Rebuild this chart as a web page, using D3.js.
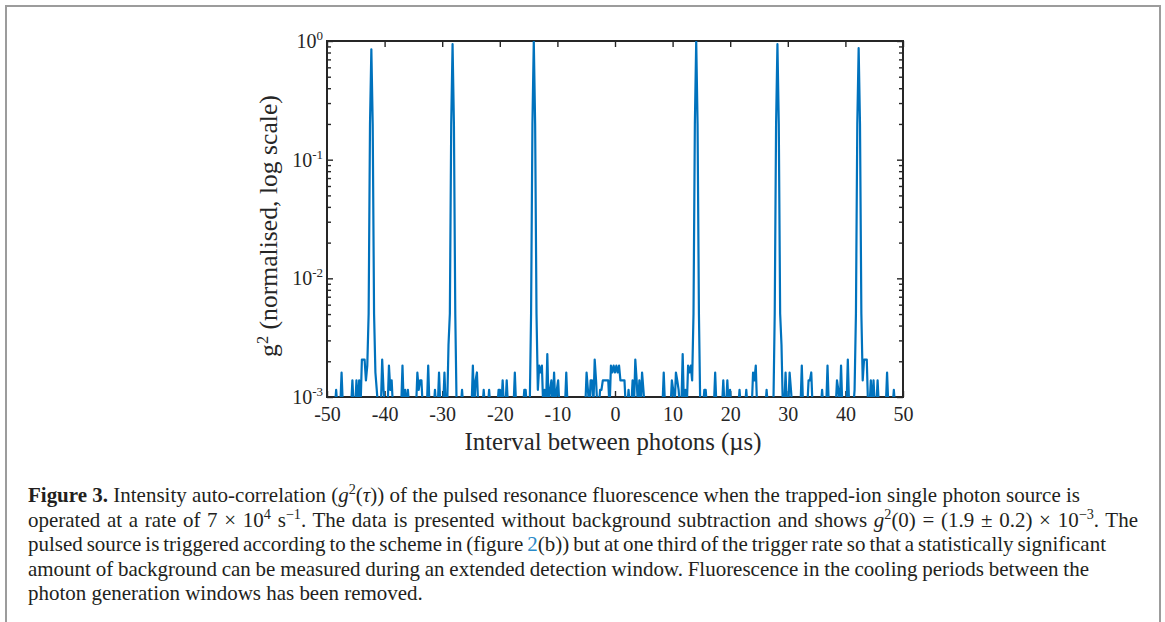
<!DOCTYPE html>
<html>
<head>
<meta charset="utf-8">
<script src="https://cdn.jsdelivr.net/npm/d3@7"></script>
<style>
  html, body { margin: 0; padding: 0; background: #ffffff; }
  svg { display: block; }
</style>
</head>
<body>
<svg id="chart" width="1165" height="622"></svg>
<script>
// ---------------- DATA ----------------
// Histogram of photon-pair intervals: bin width (µs) and index of the first bin (bin 0 is tau = 0)
const binWidthUs = 0.235;
const firstBinIndex = -207;
// coincidence counts that correspond to g2 = 1 (normalisation)
const countsAtUnity = 4350;
// coincidence counts per bin, from bin -207 to bin +207
const coincidenceCounts = [
  0,5,0,0,0,7,0,0,0,0,            // -207
  0,0,0,6,0,0,6,0,6,0,            // -197
  9,9,9,6,8,22,870,3700,870,22,   // -187
  7,5,0,0,0,9,5,0,0,0,            // -177
  8,5,6,0,0,0,0,0,0,0,            // -167
  8,0,5,0,5,0,0,0,0,0,            // -157
  0,7,5,6,6,0,0,0,0,8,            // -147
  0,0,0,0,5,0,0,7,0,0,            // -137
  0,7,0,0,12,22,870,4090,870,22,  // -127
  0,0,0,0,5,0,0,0,0,0,            // -117
  0,0,8,0,6,7,0,0,0,0,            // -107
  5,0,0,0,5,0,0,0,0,0,            // -97
  0,5,5,0,6,0,0,6,0,0,            // -87
  0,0,0,7,0,0,0,0,0,0,            // -77
  5,5,0,0,0,22,870,4350,870,22,   // -67
  5,8,7,8,0,5,0,10,0,5,           // -57
  6,0,7,0,5,6,0,0,0,0,            // -47
  0,7,0,0,0,0,0,0,0,0,            // -37
  0,0,0,0,0,0,7,5,0,6,            // -27
  6,0,9,6,0,0,5,5,6,6,            // -17
  6,6,6,0,8,7,8,7,8,7,            // -7
  8,6,6,6,6,0,0,5,0,0,            // 3
  6,0,9,6,0,6,0,7,5,0,            // 13
  0,0,0,0,0,0,0,0,0,0,            // 23
  0,0,0,7,0,0,0,0,0,6,            // 33
  5,0,7,6,5,0,0,10,0,5,           // 43
  0,8,7,8,6,22,870,4350,870,22,   // 53
  0,0,0,5,5,0,0,0,0,0,            // 63
  0,7,0,0,0,0,0,6,0,0,            // 73
  6,0,5,0,0,0,0,0,0,5,            // 83
  0,0,0,0,5,0,0,0,0,7,            // 93
  6,8,0,0,0,0,0,0,0,5,            // 103
  0,0,0,0,0,22,870,4090,870,22,   // 113
  12,0,0,7,0,0,7,5,0,0,           // 123
  0,0,0,0,0,8,0,0,0,0,            // 133
  6,6,7,0,0,0,0,0,0,0,            // 143
  5,0,0,0,8,0,0,0,0,0,            // 153
  0,6,5,0,8,0,0,0,0,9,            // 163
  0,0,0,0,5,22,870,3785,870,22,   // 173
  6,9,9,9,0,0,6,0,6,0,            // 183
  0,6,0,0,0,0,0,0,7,0,            // 193
  0,0,0,5,0                       // 203
];

const xTickValues = [-50, -40, -30, -20, -10, 0, 10, 20, 30, 40, 50];
const xTickLabels = ["-50", "-40", "-30", "-20", "-10", "0", "10", "20", "30", "40", "50"];
const yTickValues = [1, 0.1, 0.01, 0.001];
const yTickExponents = ["0", "-1", "-2", "-3"];
const yMinorMantissas = [2, 3, 4, 5, 6, 7, 8, 9];
const yMinorDecades = [0.001, 0.01, 0.1];

const xAxisTitle = "Interval between photons (\u00B5s)";
const yAxisTitleMain = "g";
const yAxisTitleSup = "2";
const yAxisTitleRest = " (normalised, log scale)";

const captionLines = [
  [ {t: "Figure 3.", b: true}, {t: " Intensity auto-correlation "}, {t: "("}, {t: "g", it: true}, {t: "2", sup: true},
    {t: "("}, {t: "\u03C4", it: true}, {t: ")) of the pulsed resonance fluorescence when the trapped-ion single photon source is"} ],
  [ {t: "operated at a rate of 7 \u00D7 10"}, {t: "4", sup: true}, {t: " s"}, {t: "\u22121", sup: true},
    {t: ". The data is presented without background subtraction and shows "}, {t: "g", it: true}, {t: "2", sup: true},
    {t: "(0) = (1.9 \u00B1 0.2) \u00D7 10"}, {t: "\u22123", sup: true}, {t: ". The"} ],
  [ {t: "pulsed source is triggered according to the scheme in (figure "}, {t: "2", link: true},
    {t: "(b)) but at one third of the trigger rate so that a statistically significant"} ],
  [ {t: "amount of background can be measured during an extended detection window. Fluorescence in the cooling periods between the"} ],
  [ {t: "photon generation windows has been removed."} ]
];

// ---------------- LAYOUT ----------------
const W = 1165, H = 622;
const M = { left: 327, right: 903, top: 41, bottom: 397 };
const axisColor = "#262626";
const lineColor = "#0072BD";
const serif = "'Liberation Serif', 'Times New Roman', Times, serif";

const svg = d3.select("#chart");

// page frame
svg.append("path")
  .attr("d", `M6,${H} V6 H1160 V${H}`)
  .attr("fill", "none").attr("stroke", "#9c9c9c").attr("stroke-width", 2);

const x = d3.scaleLinear().domain([-50, 50]).range([M.left, M.right]);
const y = d3.scaleLog().domain([0.001, 1]).range([M.bottom, M.top]);

const yMinorTicks = [];
yMinorDecades.forEach(dec => yMinorMantissas.forEach(m => yMinorTicks.push(m * dec)));

function styleAxis(g) {
  g.select(".domain").remove();
  g.selectAll(".tick line").attr("stroke", axisColor).attr("stroke-width", 1.4);
  g.selectAll(".tick text").attr("fill", axisColor).attr("font-family", serif);
}

// bottom axis (labels)
const gx = svg.append("g").attr("transform", `translate(0,${M.bottom})`)
  .call(d3.axisBottom(x).tickValues(xTickValues).tickSize(-6).tickSizeOuter(0).tickPadding(10)
    .tickFormat((d, i) => xTickLabels[i]));
styleAxis(gx);
gx.selectAll(".tick text").attr("font-size", 20);

// top axis (ticks only)
const gxt = svg.append("g").attr("transform", `translate(0,${M.top})`)
  .call(d3.axisTop(x).tickValues(xTickValues).tickSize(-6).tickSizeOuter(0).tickFormat(""));
styleAxis(gxt);

// left axis major
const gyl = svg.append("g").attr("transform", `translate(${M.left},0)`)
  .call(d3.axisLeft(y).tickValues(yTickValues).tickSize(-6).tickSizeOuter(0).tickPadding(4).tickFormat(() => ""));
styleAxis(gyl);
gyl.selectAll(".tick text").each(function (d, i) {
  const t = d3.select(this).attr("font-size", 20).attr("dy", "0.32em");
  t.append("tspan").text("10");
  t.append("tspan").text(yTickExponents[i]).attr("font-size", 13).attr("dy", -8);
});
// left axis minor
const gylm = svg.append("g").attr("transform", `translate(${M.left},0)`)
  .call(d3.axisLeft(y).tickValues(yMinorTicks).tickSize(-4).tickSizeOuter(0).tickFormat(""));
styleAxis(gylm);
// right axis major + minor
const gyr = svg.append("g").attr("transform", `translate(${M.right},0)`)
  .call(d3.axisRight(y).tickValues(yTickValues).tickSize(-6).tickSizeOuter(0).tickFormat(""));
styleAxis(gyr);
const gyrm = svg.append("g").attr("transform", `translate(${M.right},0)`)
  .call(d3.axisRight(y).tickValues(yMinorTicks).tickSize(-4).tickSizeOuter(0).tickFormat(""));
styleAxis(gyrm);

// axes box
svg.append("rect")
  .attr("x", M.left).attr("y", M.top)
  .attr("width", M.right - M.left).attr("height", M.bottom - M.top)
  .attr("fill", "none").attr("stroke", axisColor).attr("stroke-width", 2);

// data line
svg.append("clipPath").attr("id", "plotClip")
  .append("rect").attr("x", M.left).attr("y", M.top)
  .attr("width", M.right - M.left).attr("height", M.bottom - M.top);

const series = coincidenceCounts.map((c, i) => ({
  tau: (firstBinIndex + i) * binWidthUs,
  g2: c / countsAtUnity
}));
const floorValue = 0.0008; // empty bins sit below the visible range and are clipped
const line = d3.line()
  .x(d => x(d.tau))
  .y(d => y(Math.max(d.g2, floorValue)));

svg.append("path")
  .datum(series)
  .attr("clip-path", "url(#plotClip)")
  .attr("d", line)
  .attr("fill", "none")
  .attr("stroke", lineColor)
  .attr("stroke-width", 2.2)
  .attr("stroke-linejoin", "round");

// fit helper for titles
function fitFont(textSel, baseSize, targetWidth) {
  textSel.attr("font-size", baseSize);
  const w = textSel.node().getComputedTextLength();
  if (w > 0) textSel.attr("font-size", baseSize * targetWidth / w);
}

// x title
const xt = svg.append("text")
  .attr("x", 613).attr("y", 450)
  .attr("text-anchor", "middle")
  .attr("font-family", serif).attr("fill", axisColor)
  .text(xAxisTitle);
fitFont(xt, 24, 297);

// y title
const yt = svg.append("text")
  .attr("transform", "translate(277,226) rotate(-90)")
  .attr("text-anchor", "middle")
  .attr("font-family", serif).attr("fill", axisColor);
yt.append("tspan").text(yAxisTitleMain);
const ySup = yt.append("tspan").text(yAxisTitleSup).attr("dy", -8);
const yRest = yt.append("tspan").text(yAxisTitleRest).attr("dy", 8);
yt.attr("font-size", 22);
ySup.attr("font-size", 14);
{
  const w = yt.node().getComputedTextLength();
  const s = 262 / w;
  yt.attr("font-size", 22 * s);
  ySup.attr("font-size", 14 * s).attr("dy", -8 * s);
  yRest.attr("dy", 8 * s);
}

// caption
const capX = 28;
const capBaselines = [502, 526.5, 551, 575.5, 600];
const capEnds = [1080, 1138, 1106, 1089, 423];
const capColor = "#231f20";
const linkColor = "#2a8ac8";

function renderCaptionLine(segs, yPos, fs) {
  const t = svg.append("text")
    .attr("x", capX).attr("y", yPos)
    .attr("font-family", serif).attr("font-size", fs)
    .attr("fill", capColor)
    .attr("xml:space", "preserve")
    .style("white-space", "pre");
  let shift = 0;
  segs.forEach(s => {
    const ts = t.append("tspan").text(s.t);
    const target = s.sup ? -0.38 * fs : 0;
    if (target !== shift) { ts.attr("dy", target - shift); shift = target; }
    if (s.sup) ts.attr("font-size", fs * 0.68);
    if (s.it) ts.attr("font-style", "italic");
    if (s.b) ts.attr("font-weight", "bold");
    if (s.link) ts.attr("fill", linkColor);
  });
  return t;
}

// determine caption font size from the last (unjustified) line
let capFs = 20;
{
  const probe = renderCaptionLine(captionLines[4], -100, 20);
  const w = probe.node().getComputedTextLength();
  probe.remove();
  if (w > 0) capFs = Math.max(17, Math.min(22, 20 * (capEnds[4] - capX) / w));
}

captionLines.forEach((segs, i) => {
  const t = renderCaptionLine(segs, capBaselines[i], capFs);
  if (i < 4) {
    const w = t.node().getComputedTextLength();
    const full = segs.map(s => s.t).join("");
    const nSpaces = (full.match(/ /g) || []).length;
    if (nSpaces > 0) {
      const ws = (capEnds[i] - capX - w) / nSpaces;
      t.attr("word-spacing", ws);
    }
  }
});
</script>
</body>
</html>
